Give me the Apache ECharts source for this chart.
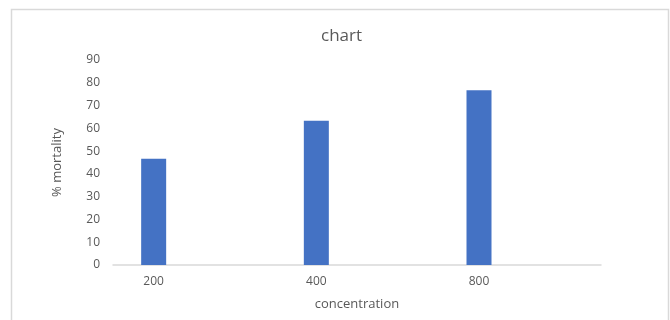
<!DOCTYPE html>
<html>
<head>
<meta charset="utf-8">
<script src="https://cdn.jsdelivr.net/npm/echarts@6/dist/echarts.min.js"></script>
<style>
  html, body { margin: 0; padding: 0; background: #fff; }
  #chart { width: 670px; height: 320px; }
</style>
</head>
<body>
<div id="chart"></div>
<script>
// Concentration categories (blank slots keep the spacing between measured doses)
const categories = ['200', '', '400', '', '800', ''];
// % mortality per concentration
const mortality = [46.67, null, 63.33, null, 76.67, null];
const yTicks = { min: 0, max: 90, interval: 10 };

const textColor = '#595959';
const fontFamily = '"Open Sans", "Noto Sans", sans-serif';

const chart = echarts.init(document.getElementById('chart'), null, { renderer: 'canvas' });
chart.setOption({
  animation: false,
  backgroundColor: '#ffffff',
  title: {
    text: 'chart',
    left: 316,
    top: 23,
    textStyle: { color: textColor, fontSize: 17, fontWeight: 'normal', fontFamily }
  },
  graphic: [{
    type: 'rect',
    shape: { x: 11.5, y: 9.5, width: 657, height: 330 },
    style: { fill: 'none', stroke: '#d9d9d9', lineWidth: 1.5 },
    silent: true
  }],
  grid: { left: 113, right: 69, top: 60, bottom: 55, containLabel: false },
  xAxis: {
    type: 'category',
    data: categories,
    name: 'concentration',
    nameLocation: 'middle',
    nameGap: 33,
    nameTextStyle: { color: textColor, fontSize: 13, fontFamily },
    axisLine: { lineStyle: { color: '#d9d9d9', width: 1.5 } },
    axisTick: { show: false },
    axisLabel: { interval: 0, color: textColor, fontSize: 12, fontFamily, margin: 11 }
  },
  yAxis: {
    type: 'value',
    min: yTicks.min,
    max: yTicks.max,
    interval: yTicks.interval,
    name: '% mortality',
    nameLocation: 'middle',
    nameGap: 49,
    nameTextStyle: { color: textColor, fontSize: 13, fontFamily },
    axisLine: { show: false },
    axisTick: { show: false },
    splitLine: { show: false },
    axisLabel: { color: textColor, fontSize: 12, fontFamily, margin: 13 }
  },
  series: [{
    type: 'bar',
    data: mortality,
    barWidth: 25,
    itemStyle: { color: '#4472C4' }
  }]
});
</script>
</body>
</html>
